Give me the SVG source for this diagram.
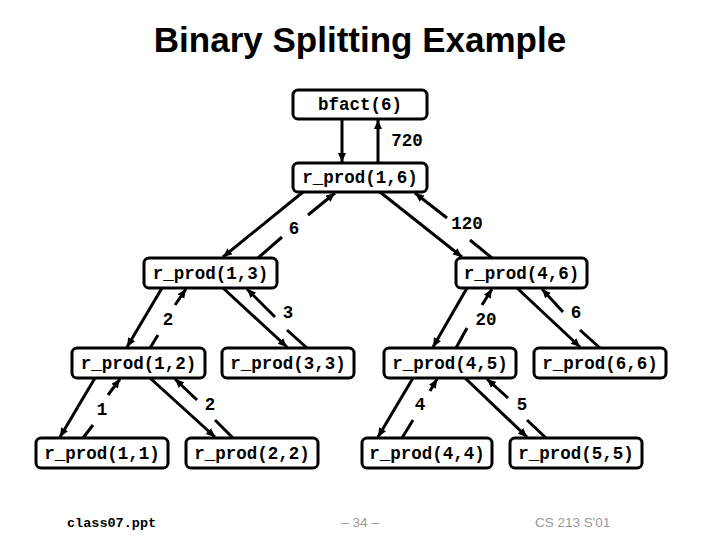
<svg xmlns="http://www.w3.org/2000/svg" width="720" height="540" viewBox="0 0 720 540">
<defs>
<marker id="ah" markerUnits="userSpaceOnUse" markerWidth="10" markerHeight="9" refX="9" refY="4" orient="auto">
<path d="M0,0 L9,4 L0,8 z" fill="#000"/>
</marker>
<style>
.box{fill:#fff;stroke:#000;stroke-width:3}
.bt{font-family:"Liberation Mono","Courier New",monospace;font-weight:bold;font-size:17.5px;text-anchor:middle;fill:#000}
.lbl{font-family:"Liberation Mono","Courier New",monospace;font-weight:bold;font-size:17.5px;text-anchor:middle;fill:#000}
.ln{stroke:#000;stroke-width:3;fill:none}
.ar{marker-end:url(#ah)}
.foot{font-family:"Liberation Sans",Arial,sans-serif;font-size:13.5px;fill:#999}
</style>
</defs>
<rect width="720" height="540" fill="#fff"/>
<text x="360" y="52" font-family="Liberation Sans, Arial, sans-serif" font-weight="bold" font-size="35" text-anchor="middle">Binary Splitting Example</text>

<g id="connectors">
<line class="ln ar" x1="342" y1="119" x2="342" y2="162"/>
<line class="ln ar" x1="378" y1="163" x2="378" y2="120"/>

<line class="ln ar" x1="303" y1="192" x2="223" y2="257"/>
<line class="ln" x1="258" y1="258" x2="282" y2="237"/>
<line class="ln ar" x1="308" y1="215" x2="335" y2="193"/>

<line class="ln ar" x1="380" y1="192" x2="462" y2="257"/>
<line class="ln" x1="492" y1="258" x2="470" y2="240"/>
<line class="ln ar" x1="447" y1="218" x2="415" y2="193"/>

<line class="ln ar" x1="162" y1="288" x2="127" y2="347"/>
<line class="ln" x1="150" y1="348" x2="158" y2="335"/>
<line class="ln ar" x1="175" y1="305" x2="186" y2="289"/>

<line class="ln ar" x1="223" y1="288" x2="287" y2="347"/>
<line class="ln" x1="307" y1="348" x2="287" y2="330"/>
<line class="ln ar" x1="275" y1="317" x2="247" y2="289"/>

<line class="ln ar" x1="467" y1="288" x2="433" y2="347"/>
<line class="ln" x1="456" y1="348" x2="467" y2="328"/>
<line class="ln ar" x1="482" y1="305" x2="492" y2="289"/>

<line class="ln ar" x1="517" y1="288" x2="580" y2="347"/>
<line class="ln" x1="600" y1="348" x2="580" y2="330"/>
<line class="ln ar" x1="563" y1="312" x2="542" y2="289"/>

<line class="ln ar" x1="95" y1="378" x2="60" y2="437"/>
<line class="ln" x1="83" y1="438" x2="93" y2="425"/>
<line class="ln ar" x1="108" y1="395" x2="120" y2="379"/>

<line class="ln ar" x1="150" y1="378" x2="215" y2="437"/>
<line class="ln" x1="233" y1="438" x2="215" y2="420"/>
<line class="ln ar" x1="197" y1="400" x2="175" y2="379"/>

<line class="ln ar" x1="413" y1="378" x2="378" y2="437"/>
<line class="ln" x1="402" y1="438" x2="413" y2="420"/>
<line class="ln ar" x1="430" y1="391" x2="437" y2="379"/>

<line class="ln ar" x1="465" y1="378" x2="527" y2="437"/>
<line class="ln" x1="546" y1="438" x2="527" y2="420"/>
<line class="ln ar" x1="508" y1="398" x2="487" y2="379"/>

<text class="lbl" x="407" y="146">720</text>
<text class="lbl" x="294" y="234">6</text>
<text class="lbl" x="467" y="229">120</text>
<text class="lbl" x="168" y="325">2</text>
<text class="lbl" x="288" y="318">3</text>
<text class="lbl" x="486" y="325">20</text>
<text class="lbl" x="576" y="318">6</text>
<text class="lbl" x="102" y="415">1</text>
<text class="lbl" x="210" y="410">2</text>
<text class="lbl" x="420" y="410">4</text>
<text class="lbl" x="522" y="410">5</text>
</g>

<g id="bfact6"><rect class="box" x="293" y="90" width="134" height="29" rx="5"/><text class="bt" x="360" y="110">bfact(6)</text></g>
<g id="rp16"><rect class="box" x="293" y="163" width="134" height="29" rx="5"/><text class="bt" x="360" y="183">r_prod(1,6)</text></g>
<g id="rp13"><rect class="box" x="144" y="258" width="133" height="30" rx="5"/><text class="bt" x="210.5" y="278.5">r_prod(1,3)</text></g>
<g id="rp46"><rect class="box" x="456" y="258" width="131" height="30" rx="5"/><text class="bt" x="521.5" y="278.5">r_prod(4,6)</text></g>
<g id="rp12"><rect class="box" x="72" y="348" width="133" height="30" rx="5"/><text class="bt" x="138.5" y="368.5">r_prod(1,2)</text></g>
<g id="rp33"><rect class="box" x="222" y="348" width="132" height="30" rx="5"/><text class="bt" x="288" y="368.5">r_prod(3,3)</text></g>
<g id="rp45"><rect class="box" x="384" y="348" width="132" height="30" rx="5"/><text class="bt" x="450" y="368.5">r_prod(4,5)</text></g>
<g id="rp66"><rect class="box" x="534" y="348" width="132" height="30" rx="5"/><text class="bt" x="600" y="368.5">r_prod(6,6)</text></g>
<g id="rp11"><rect class="box" x="36" y="438" width="132" height="30" rx="5"/><text class="bt" x="102" y="458.5">r_prod(1,1)</text></g>
<g id="rp22"><rect class="box" x="186" y="438" width="132" height="30" rx="5"/><text class="bt" x="252" y="458.5">r_prod(2,2)</text></g>
<g id="rp44"><rect class="box" x="362" y="438" width="130" height="30" rx="5"/><text class="bt" x="427" y="458.5">r_prod(4,4)</text></g>
<g id="rp55"><rect class="box" x="510" y="438" width="132" height="30" rx="5"/><text class="bt" x="576" y="458.5">r_prod(5,5)</text></g>

<text x="67" y="527" font-family="Liberation Mono, Courier New, monospace" font-weight="bold" font-size="13.5">class07.ppt</text>
<text class="foot" x="360" y="527" text-anchor="middle">– 34 –</text>
<text class="foot" x="535" y="527">CS 213 S'01</text>
</svg>
